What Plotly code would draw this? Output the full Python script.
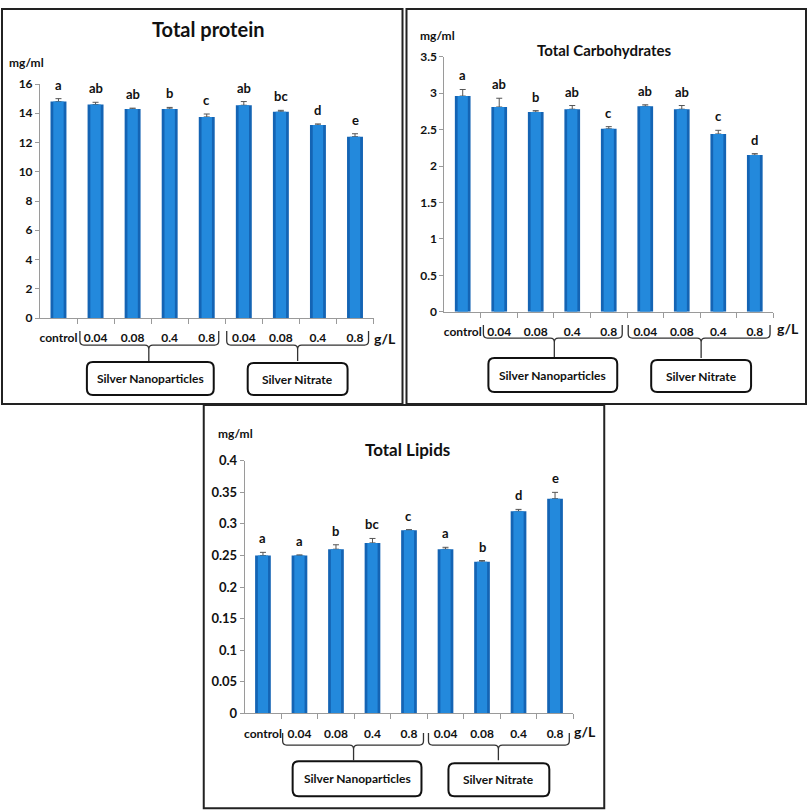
import plotly.graph_objects as go

# ---------------- data ----------------
categories = ["control", "0.04", "0.08", "0.4", "0.8", "0.04", "0.08", "0.4", "0.8"]
group_labels = ["Silver Nanoparticles", "Silver Nitrate"]

protein = [14.8, 14.6, 14.3, 14.3, 13.75, 14.55, 14.1, 13.2, 12.4]
protein_err = [0.2, 0.15, 0.05, 0.1, 0.2, 0.25, 0.1, 0.07, 0.2]
protein_letters = ["a", "ab", "ab", "b", "c", "ab", "bc", "d", "e"]

carbs = [2.96, 2.81, 2.74, 2.78, 2.51, 2.82, 2.78, 2.44, 2.15]
carbs_err = [0.09, 0.12, 0.02, 0.05, 0.03, 0.02, 0.05, 0.05, 0.02]
carbs_letters = ["a", "ab", "b", "ab", "c", "ab", "ab", "c", "d"]

lipids = [0.25, 0.25, 0.26, 0.27, 0.29, 0.26, 0.24, 0.32, 0.34]
lipids_err = [0.005, 0.001, 0.007, 0.007, 0.001, 0.003, 0.002, 0.003, 0.01]
lipids_letters = ["a", "a", "b", "bc", "c", "a", "b", "d", "e"]

W, HF = 809, 819
VS, VOFF = 0.9803, 8.0
FONT = "Lato"
BAR_EDGE = "#1464b4"
BAR_MID = "#2389dc"


def px(x):
    return x / W


def py(y):
    f = (y - VOFF) / VS
    f = min(max(f, 1.0), HF - 1.0)
    return 1 - f / HF


panels = [
    dict(title="Total protein", tsize=20, tpos=(208, 29), unit=(26, 62), gl=(384, 338),
         vals=protein, err=protein_err, letters=protein_letters, ax=(39, 373), ay=(318, 84),
         rng=[0, 16], dtick=2, tfs=12, border=(1, 1, 402, 404),
         br=[(79, 218, 148), (226, 368, 297)], bry=(331, 345, 361),
         boxes=[(86, 213, 362, 395), (247, 347, 363, 395)]),
    dict(title="Total Carbohydrates", tsize=15, tpos=(604, 50), unit=(437, 35), gl=(788, 328),
         vals=carbs, err=carbs_err, letters=carbs_letters, ax=(444, 773), ay=(311.7, 56.7),
         rng=[0, 3.5], dtick=0.5, tfs=12, border=(406, 1, 806, 404),
         br=[(483, 622, 554), (628, 770, 701)], bry=(325, 338, 358),
         boxes=[(488, 617, 358, 392), (651, 751, 360, 392)]),
    dict(title="Total Lipids", tsize=17, tpos=(407, 449), unit=(235, 433), gl=(585, 731),
         vals=lipids, err=lipids_err, letters=lipids_letters, ax=(244, 573), ay=(713.3, 460.7),
         rng=[0, 0.4], dtick=0.05, tfs=13, border=(203, 405, 604, 808),
         br=[(282, 423, 353), (428, 569, 498)], bry=(733, 745, 760),
         boxes=[(292, 421, 761, 796), (448, 549, 763, 796)]),
]

fig = go.Figure()
shapes = []
annotations = []
xs = list(range(len(categories)))


def brace(xl, xr, xc, yt, yb, yp, r=4):
    pts = [
        f"M {px(xl)},{py(yt)}",
        f"L {px(xl)},{py(yb - r)}",
        f"Q {px(xl)},{py(yb)} {px(xl + r)},{py(yb)}",
        f"L {px(xc - r)},{py(yb)}",
        f"Q {px(xc)},{py(yb)} {px(xc)},{py(yb + r)}",
        f"L {px(xc)},{py(yp)}",
        f"M {px(xc)},{py(yb + r)}",
        f"Q {px(xc)},{py(yb)} {px(xc + r)},{py(yb)}",
        f"L {px(xr - r)},{py(yb)}",
        f"Q {px(xr)},{py(yb)} {px(xr)},{py(yb - r)}",
        f"L {px(xr)},{py(yt)}",
    ]
    return " ".join(pts)


def rrect(x0, x1, y0, y1, r=6):
    pts = [
        f"M {px(x0 + r)},{py(y0)}",
        f"L {px(x1 - r)},{py(y0)}",
        f"Q {px(x1)},{py(y0)} {px(x1)},{py(y0 + r)}",
        f"L {px(x1)},{py(y1 - r)}",
        f"Q {px(x1)},{py(y1)} {px(x1 - r)},{py(y1)}",
        f"L {px(x0 + r)},{py(y1)}",
        f"Q {px(x0)},{py(y1)} {px(x0)},{py(y1 - r)}",
        f"L {px(x0)},{py(y0 + r)}",
        f"Q {px(x0)},{py(y0)} {px(x0 + r)},{py(y0)}",
        "Z",
    ]
    return " ".join(pts)


for i, p in enumerate(panels):
    n = "" if i == 0 else str(i + 1)
    xa, ya = "x" + n, "y" + n
    # outer (darker) bar with error bars
    fig.add_trace(go.Bar(
        x=xs, y=p["vals"], width=0.43, marker=dict(color=BAR_EDGE, line=dict(width=0)),
        error_y=dict(type="data", array=p["err"], arrayminus=[0] * len(xs), symmetric=False,
                     color="#555555", thickness=1, width=3),
        xaxis=xa, yaxis=ya, showlegend=False, hoverinfo="skip"))
    # inner (lighter) highlight of the same bars
    fig.add_trace(go.Bar(
        x=xs, y=p["vals"], width=0.28, marker=dict(color=BAR_MID, line=dict(width=0)),
        xaxis=xa, yaxis=ya, showlegend=False, hoverinfo="skip"))

    for xv, v, e, lt in zip(xs, p["vals"], p["err"], p["letters"]):
        annotations.append(dict(xref=xa, yref=ya, x=xv, y=v + e, text=lt, showarrow=False,
                                xanchor="center", yanchor="bottom", yshift=4,
                                font=dict(family=FONT, size=13, color="#111111", weight="bold")))

    fig.layout["xaxis" + n] = dict(
        domain=[px(p["ax"][0]), px(p["ax"][1])], anchor=ya, range=[-0.5, 8.5],
        tickmode="array", tickvals=xs, ticktext=categories, ticks="",
        ticklabelstandoff=9,
        tickfont=dict(family=FONT, size=12, color="#111111", weight="bold"),
        showline=True, linecolor="#9a9a9a", linewidth=1, showgrid=False, zeroline=False,
        minor=dict(tickmode="array", tickvals=[k + 0.5 for k in range(9)], ticks="outside",
                   ticklen=5, tickcolor="#9a9a9a", tickwidth=1),
        fixedrange=True)
    fig.layout["yaxis" + n] = dict(
        domain=[py(p["ay"][0]), py(p["ay"][1])], anchor=xa, range=p["rng"], dtick=p["dtick"],
        ticks="outside", ticklen=4, tickcolor="#9a9a9a",
        tickfont=dict(family=FONT, size=p["tfs"], color="#111111", weight="bold"),
        showline=True, linecolor="#9a9a9a", linewidth=1, showgrid=False, zeroline=False,
        fixedrange=True)

    bx0, by0, bx1, by1 = p["border"]
    shapes.append(dict(type="rect", xref="paper", yref="paper", x0=px(bx0), x1=px(bx1),
                       y0=py(by0), y1=py(by1), line=dict(color="#222222", width=2)))
    yt, yb, yp = p["bry"]
    for (xl, xr, xc) in p["br"]:
        shapes.append(dict(type="path", xref="paper", yref="paper", path=brace(xl, xr, xc, yt, yb, yp),
                           line=dict(color="#333333", width=1.3)))
    for (x0, x1, y0, y1), lab in zip(p["boxes"], group_labels):
        shapes.append(dict(type="path", xref="paper", yref="paper", path=rrect(x0, x1, y0, y1),
                           line=dict(color="#111111", width=2)))
        annotations.append(dict(xref="paper", yref="paper", x=px((x0 + x1) / 2), y=py((y0 + y1) / 2),
                                text=lab, showarrow=False, xanchor="center", yanchor="middle",
                                font=dict(family=FONT, size=12, color="#111111", weight="bold")))
    annotations.append(dict(xref="paper", yref="paper", x=px(p["tpos"][0]), y=py(p["tpos"][1]),
                            text=p["title"], showarrow=False, xanchor="center", yanchor="middle",
                            font=dict(family=FONT, size=p["tsize"], color="#111111", weight="bold")))
    annotations.append(dict(xref="paper", yref="paper", x=px(p["unit"][0]), y=py(p["unit"][1]),
                            text="mg/ml", showarrow=False, xanchor="center", yanchor="middle",
                            font=dict(family=FONT, size=12, color="#111111", weight="bold")))
    annotations.append(dict(xref="paper", yref="paper", x=px(p["gl"][0]), y=py(p["gl"][1]),
                            text="g/L", showarrow=False, xanchor="center", yanchor="middle",
                            font=dict(family=FONT, size=14, color="#111111", weight="bold")))

fig.update_layout(
    width=W, height=HF, margin=dict(l=0, r=0, t=0, b=0),
    paper_bgcolor="white", plot_bgcolor="white", barmode="overlay",
    shapes=shapes, annotations=annotations,
)

fig.write_html(
    "out.html",
    config={"displayModeBar": False, "responsive": False},
    post_script=(
        "document.documentElement.style.margin='0';"
        "document.documentElement.style.padding='0';"
        "document.documentElement.style.overflow='hidden';"
        "document.body.style.margin='0';document.body.style.padding='0';"
        "document.body.style.overflow='hidden';"
        "var gd=document.getElementById('{plot_id}');"
        "gd.style.position='fixed';gd.style.top='0px';gd.style.left='0px';"
    ),
)
